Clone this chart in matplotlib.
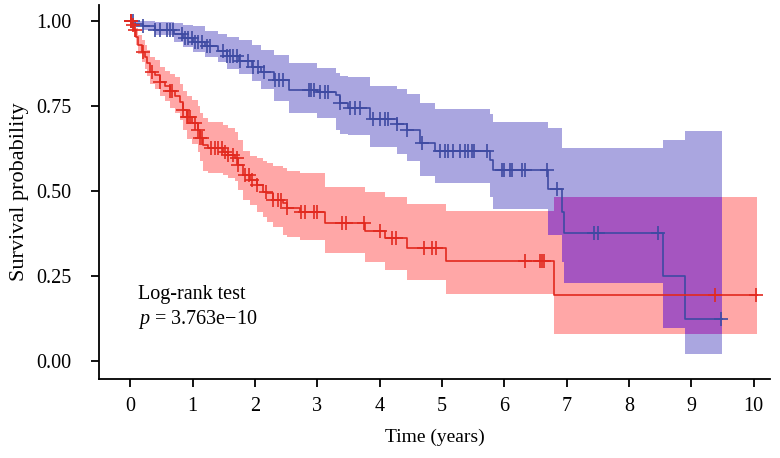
import numpy as np
import matplotlib
matplotlib.use("Agg")
import matplotlib.pyplot as plt

plt.rcParams['font.family'] = ['Liberation Serif', 'DejaVu Serif']
plt.rcParams['mathtext.fontset'] = 'custom'
plt.rcParams['mathtext.it'] = 'Liberation Serif:italic'
plt.rcParams['mathtext.rm'] = 'Liberation Serif'

# low-risk group (blue): step times, survival, 95% CI
blue_t = [0, 0.08, 0.2, 0.4, 0.7, 0.85, 1.0, 1.2, 1.4, 1.55, 1.75, 1.95, 2.1, 2.3, 2.55,
          3.0, 3.3, 3.37, 3.5, 3.85, 4.28, 4.44, 4.65, 4.89, 5.77, 5.82, 6.7, 6.92, 6.95,
          8.54, 8.9]
blue_s = [1.0, 0.993, 0.985, 0.975, 0.962, 0.95, 0.938, 0.926, 0.912, 0.897, 0.882, 0.865,
          0.85, 0.827, 0.798, 0.792, 0.783, 0.76, 0.745, 0.712, 0.698, 0.68, 0.642, 0.62,
          0.592, 0.562, 0.507, 0.44, 0.377, 0.25, 0.125]
blue_lo = [1.0, 0.985, 0.975, 0.96, 0.94, 0.925, 0.91, 0.895, 0.88, 0.86, 0.845, 0.825,
           0.80, 0.765, 0.73, 0.716, 0.68, 0.67, 0.665, 0.63, 0.609, 0.589, 0.546, 0.523,
           0.484, 0.447, 0.371, 0.293, 0.229, 0.097, 0.021]
blue_hi = [1.0, 1.0, 1.0, 0.998, 0.995, 0.99, 0.985, 0.972, 0.962, 0.955, 0.945, 0.93,
           0.916, 0.90, 0.877, 0.863, 0.848, 0.84, 0.836, 0.81, 0.80, 0.786, 0.76, 0.743,
           0.727, 0.705, 0.687, 0.626, 0.626, 0.651, 0.677]
blue_end = 9.49
blue_cens = [0.02, 0.05, 0.2, 0.4, 0.48, 0.59, 0.64, 0.69, 0.83, 0.88, 0.93, 0.99, 1.04,
             1.09, 1.15, 1.23, 1.28, 1.49, 1.55, 1.6, 1.65, 1.71, 1.76, 1.89, 1.97, 2.05,
             2.14, 2.33, 2.38, 2.45, 2.86, 2.9, 2.94, 3.05, 3.12, 3.18, 3.37, 3.53, 3.6,
             3.69, 3.9, 4.0, 4.09, 4.14, 4.28, 4.44, 4.68, 4.97, 5.05, 5.1, 5.17, 5.29,
             5.37, 5.42, 5.49, 5.51, 5.72, 5.96, 6.0, 6.09, 6.12, 6.28, 6.33, 6.69, 6.85,
             7.44, 7.5, 8.46, 9.48]

# high-risk group (red)
red_t = [0, 0.03, 0.06, 0.1, 0.13, 0.19, 0.23, 0.27, 0.32, 0.4, 0.48, 0.56, 0.64, 0.72,
         0.8, 0.85, 0.91, 0.99, 1.09, 1.12, 1.17, 1.25, 1.49, 1.57, 1.68, 1.73, 1.81, 1.92,
         2.03, 2.13, 2.19, 2.29, 2.45, 2.51, 2.72, 3.12, 3.77, 4.09, 4.44, 5.06, 6.8]
red_s = [1.0, 0.99, 0.975, 0.955, 0.93, 0.91, 0.895, 0.877, 0.85, 0.842, 0.822, 0.81,
         0.795, 0.78, 0.762, 0.738, 0.72, 0.70, 0.68, 0.656, 0.636, 0.627, 0.616, 0.607,
         0.598, 0.578, 0.548, 0.533, 0.519, 0.498, 0.495, 0.474, 0.465, 0.451, 0.44,
         0.407, 0.383, 0.362, 0.333, 0.295, 0.195]
red_lo = [1.0, 0.975, 0.955, 0.93, 0.905, 0.88, 0.86, 0.84, 0.815, 0.80, 0.78, 0.765,
          0.745, 0.73, 0.71, 0.68, 0.655, 0.64, 0.615, 0.59, 0.56, 0.553, 0.548, 0.54,
          0.53, 0.505, 0.474, 0.46, 0.44, 0.425, 0.41, 0.395, 0.371, 0.365, 0.357, 0.318,
          0.292, 0.269, 0.239, 0.198, 0.08]
red_hi = [1.0, 1.0, 0.995, 0.98, 0.96, 0.945, 0.93, 0.915, 0.895, 0.885, 0.865, 0.855,
          0.845, 0.835, 0.815, 0.795, 0.78, 0.768, 0.75, 0.73, 0.715, 0.704, 0.695, 0.685,
          0.674, 0.65, 0.62, 0.605, 0.598, 0.59, 0.583, 0.575, 0.568, 0.56, 0.554, 0.513,
          0.498, 0.483, 0.463, 0.442, 0.483]
red_end = 10.05
red_cens = [0.01, 0.02, 0.04, 0.08, 0.2, 0.35, 0.48, 0.64, 0.67, 0.85, 0.91, 0.93, 0.96,
            1.04, 1.09, 1.12, 1.15, 1.3, 1.36, 1.41, 1.47, 1.52, 1.57, 1.65, 1.71, 1.73,
            1.84, 1.9, 1.95, 2.03, 2.18, 2.29, 2.37, 2.42, 2.51, 2.74, 2.8, 2.94, 3.0,
            3.4, 3.46, 3.75, 4.0, 4.2, 4.26, 4.71, 4.84, 4.9, 6.34, 6.58, 6.61, 6.63,
            9.38, 10.03]

x_ticks = list(range(0, 11))
y_ticks = [0.0, 0.25, 0.5, 0.75, 1.0]

BLUE_LINE, BLUE_BAND = "#3E4AA2", "#AAA6E0"
RED_LINE, RED_BAND = "#E2291F", "#FFA7A7"
OVERLAP = "#A555C0"


def step_at(times, vals, t):
    idx = np.searchsorted(np.asarray(times), t, side="right") - 1
    return np.asarray(vals)[idx]


def extend(times, vals, end):
    return np.append(times, end), np.append(vals, vals[-1])


fig = plt.figure(figsize=(7.8, 4.58), dpi=100)
ax = fig.add_axes([0.127, 0.1725, 0.86, 0.8166])

for t, lo, hi, end, bc in [(blue_t, blue_lo, blue_hi, blue_end, BLUE_BAND),
                           (red_t, red_lo, red_hi, red_end, RED_BAND)]:
    tx, lox = extend(t, lo, end)
    _, hix = extend(t, hi, end)
    ax.fill_between(tx, lox, hix, step="post", color=bc, lw=0, zorder=1)

# overlap of the two confidence bands
grid = np.union1d(blue_t, red_t)
grid = grid[grid < blue_end]
ov_lo = np.maximum(step_at(blue_t, blue_lo, grid), step_at(red_t, red_lo, grid))
ov_hi = np.minimum(step_at(blue_t, blue_hi, grid), step_at(red_t, red_hi, grid))
ov_hi = np.maximum(ov_hi, ov_lo)
gx, glo = extend(grid, ov_lo, blue_end)
_, ghi = extend(grid, ov_hi, blue_end)
ax.fill_between(gx, glo, ghi, step="post", color=OVERLAP, lw=0, zorder=2)

for t, s, end, cens, lc in [(blue_t, blue_s, blue_end, blue_cens, BLUE_LINE),
                            (red_t, red_s, red_end, red_cens, RED_LINE)]:
    tx, sx = extend(t, s, end)
    ax.step(tx, sx, where="post", color=lc, lw=1.2, zorder=3)
    ax.plot(cens, step_at(t, s, cens), ls="none", marker="+", ms=10, mew=1.2,
            color=lc, zorder=4)

ax.text(0.058, 0.19, "Log-rank test\n$p$ = 3.763e\u221210", transform=ax.transAxes,
        fontsize=14.5, va="center", ha="left", linespacing=1.2)

ax.set_xlim(-0.5, 10.26)
ax.set_ylim(-0.052, 1.048)
ax.set_xticks(x_ticks)
ax.set_yticks(y_ticks)
ax.set_yticklabels([f"{v:.2f}" for v in y_ticks])
ax.tick_params(labelsize=14.5, width=1.3, length=6, direction="out")
ax.tick_params(axis="y", pad=14)
ax.tick_params(axis="x", pad=7)
ax.spines["top"].set_visible(False)
ax.spines["right"].set_visible(False)
ax.spines["left"].set_linewidth(1.3)
ax.spines["bottom"].set_linewidth(1.3)
ax.set_xlabel("Time (years)", fontsize=14, labelpad=9)
ax.set_ylabel("Survival probability", fontsize=16, labelpad=5)

fig.savefig("out.png", dpi=100)
